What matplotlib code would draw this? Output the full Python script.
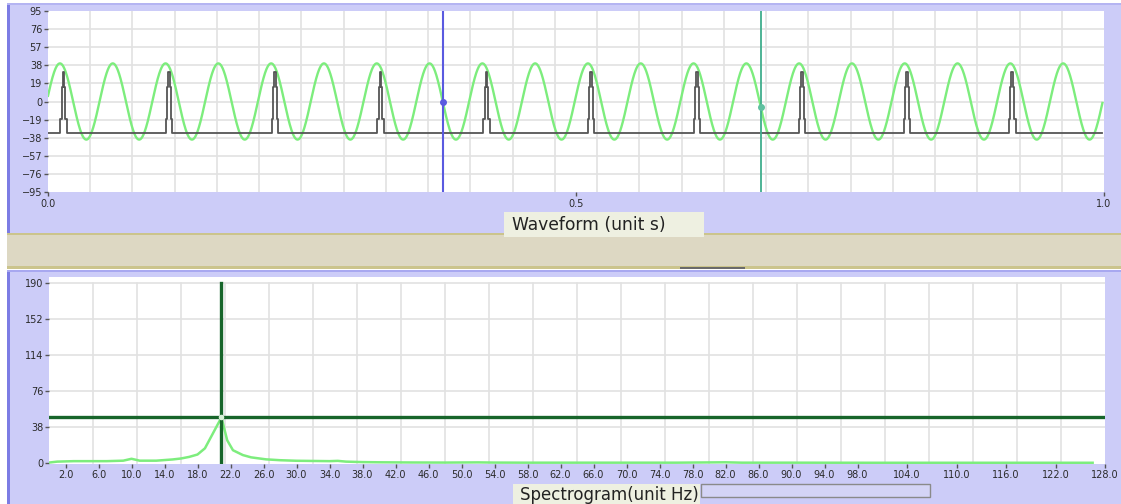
import numpy as np
import matplotlib
matplotlib.use("Agg")
import matplotlib.pyplot as plt
from matplotlib.patches import Rectangle

W, H = 1121, 504

# waveform panel data
wave_xticks = [0.0, 0.5, 1.0]
wave_xlabels = ["0.0", "0.5", "1.0"]
wave_yticks = [95, 76, 57, 38, 19, 0, -19, -38, -57, -76, -95]
sine_freq = 20.0      # Hz, 20 cycles across 1 s
sine_amp = 40.0
sine_phase = 0.15     # rad
pulse_starts = [0.0114, 0.1114, 0.2120, 0.3118, 0.4120, 0.5110, 0.6114, 0.7109, 0.8104, 0.9100]
pulse_offsets = [0, 0, 0.0014, 0.0014, 0.0024, 0.0024, 0.0038, 0.0038, 0.0047, 0.0047, 0.0062, 0.0062]
pulse_levels = [-33, -18, -18, 15, 15, 31, 31, 15, 15, -18, -18, -33]
pulse_base = -33
wave_cursor_a = 0.374
wave_cursor_b = 0.675

# spectrogram panel data
spec_freq = [0, 1, 3, 5, 7, 9, 10, 11, 13, 15, 16, 17, 18, 18.9, 20.9, 21.6, 22.3, 23.5,
             24.5, 26.3, 28, 30, 32, 34, 35, 36, 38, 40, 44, 48, 52, 54, 58, 64, 70, 76,
             82, 84, 90, 100, 110, 120, 126.5]
spec_amp = [0.5, 1.5, 2.0, 2.0, 2.0, 2.5, 4.5, 2.5, 2.5, 3.8, 4.8, 6.5, 9.0, 15.5, 48, 24,
            13.5, 8.4, 6.0, 3.9, 3.0, 2.4, 2.2, 2.0, 2.3, 1.5, 1.0, 0.8, 0.6, 0.5, 0.7, 0.5,
            0.4, 0.4, 0.4, 0.4, 0.8, 0.4, 0.4, 0.3, 0.3, 0.3, 0.3]
spec_xticks = [2, 6, 10, 14, 18, 22, 26, 30, 34, 38, 42, 46, 50, 54, 58, 62, 66, 70, 74,
               78, 82, 86, 90, 94, 98, 104, 110, 116, 122, 128]
spec_yticks = [0, 38, 76, 114, 152, 190]
peak_freq = 20.9
peak_amp = 48

PURPLE = "#ccccf8"
BORDER = "#7c7ce4"
BEIGE = "#ddd8c3"
OLIVE = "#cbc48c"
LABELBG = "#eef0e1"
GRID = "#e2e2e2"
SINE = "#7ded7d"


def rect(fig, x0, y0, x1, y1, **kw):
    # pixel box (origin top-left) -> figure fraction
    r = Rectangle((x0 / W, 1 - y1 / H), (x1 - x0) / W, (y1 - y0) / H,
                  transform=fig.transFigure, **kw)
    fig.add_artist(r)
    return r


def axes_px(fig, x0, y0, x1, y1):
    return fig.add_axes([x0 / W, 1 - y1 / H, (x1 - x0) / W, (y1 - y0) / H])


def style_axes(ax):
    for s in ax.spines.values():
        s.set_visible(False)
    ax.set_facecolor("white")
    ax.tick_params(length=3, width=1, color="#555555", labelcolor="#2a2a2a",
                   labelsize=7, pad=1.2)


fig = plt.figure(figsize=(W / 100, H / 100), dpi=100)
fig.patch.set_facecolor("white")

# panel backgrounds
rect(fig, 7, 3, 1121, 233, facecolor=PURPLE, edgecolor="none", zorder=-10)
rect(fig, 7, 3, 10, 233, facecolor=BORDER, edgecolor="none", zorder=-9)
rect(fig, 7, 3, 1121, 5, facecolor="#b4b4f2", edgecolor="none", zorder=-9)
rect(fig, 7, 233, 1121, 269, facecolor=BEIGE, edgecolor="none", zorder=-10)
rect(fig, 7, 233, 1121, 235, facecolor=OLIVE, edgecolor="none", zorder=-9)
rect(fig, 7, 266, 1121, 269, facecolor=OLIVE, edgecolor="none", zorder=-9)
rect(fig, 680, 267, 745, 268.5, facecolor="#6a6a6a", edgecolor="none", zorder=-8)
rect(fig, 7, 270, 1121, 504, facecolor=PURPLE, edgecolor="none", zorder=-10)
rect(fig, 7, 270, 10, 504, facecolor=BORDER, edgecolor="none", zorder=-9)
rect(fig, 7, 270, 1121, 272, facecolor="#a8a8f0", edgecolor="none", zorder=-9)

# ---- waveform ----
ax1 = axes_px(fig, 48, 11, 1104, 192)
style_axes(ax1)
ax1.set_xlim(0, 1.0)
ax1.set_ylim(-95, 95)
for g in np.linspace(0, 1, 26)[1:-1]:
    ax1.axvline(g, color=GRID, lw=1.2, zorder=1)
for g in wave_yticks[1:-1]:
    ax1.axhline(g, color=GRID, lw=1.2, zorder=1)

t = np.linspace(0, 0.9985, 4000)
ax1.plot(t, sine_amp * np.sin(2 * np.pi * sine_freq * t + sine_phase), color=SINE, lw=1.7, zorder=3)

px, py = [0.0], [pulse_base]
for s in pulse_starts:
    px += [s + o for o in pulse_offsets]
    py += pulse_levels
px.append(0.9985)
py.append(pulse_base)
ax1.plot(px, py, color="#555555", lw=1.3, zorder=4)

ax1.axvline(wave_cursor_a, color="#5a5ae0", lw=1.5, zorder=5)
ax1.axvline(wave_cursor_b, color="#3fae8c", lw=1.3, zorder=5)
for c, col in [(wave_cursor_a, "#5a5ae0"), (wave_cursor_b, "#5fc0a0")]:
    ax1.plot([c], [sine_amp * np.sin(2 * np.pi * sine_freq * c + sine_phase)], "o",
             ms=4, color=col, zorder=6)

ax1.set_yticks(wave_yticks)
ax1.set_xticks(wave_xticks)
ax1.set_xticklabels(wave_xlabels)
ax1.tick_params(axis="x", pad=2)

rect(fig, 504, 212, 704, 237, facecolor=LABELBG, edgecolor="none", zorder=2)
fig.text(512 / W, 1 - 224.5 / H, "Waveform (unit s)", fontsize=12.3, color="#222222",
         va="center", ha="left", zorder=3)

# ---- spectrogram ----
ax2 = axes_px(fig, 49, 277, 1105, 464)
style_axes(ax2)
ax2.set_xlim(0, 128)
ax2.set_ylim(-1, 196)
for g in np.linspace(0, 128, 25)[1:-1]:
    ax2.plot([g, g], [0, 190], color=GRID, lw=1.2, zorder=1)
for g in spec_yticks[1:]:
    ax2.axhline(g, color=GRID, lw=1.2, zorder=1)

ax2.plot(spec_freq, spec_amp, color=SINE, lw=1.8, zorder=3)
ax2.plot([peak_freq, peak_freq], [-1, 190], color="#17652a", lw=2.4, zorder=4)
ax2.axhline(peak_amp, color="#17652a", lw=2.4, zorder=4)
ax2.plot([peak_freq], [peak_amp], "o", ms=3, color="#d8f0d8", zorder=5)

ax2.set_yticks(spec_yticks)
ax2.set_xticks(spec_xticks)
ax2.set_xticklabels([f"{v:.1f}" for v in spec_xticks])
ax2.tick_params(axis="x", labelsize=7)

rect(fig, 513, 484, 700, 504, facecolor=LABELBG, edgecolor="none", zorder=2)
fig.text(520 / W, 1 - 495.5 / H, "Spectrogram(unit Hz)", fontsize=12, color="#222222",
         va="center", ha="left", zorder=3)
rect(fig, 701, 484, 930, 497, facecolor="#d4d4f6", edgecolor="#8a8a8a", lw=1.0, zorder=2)

fig.savefig("out.png", dpi=100)
